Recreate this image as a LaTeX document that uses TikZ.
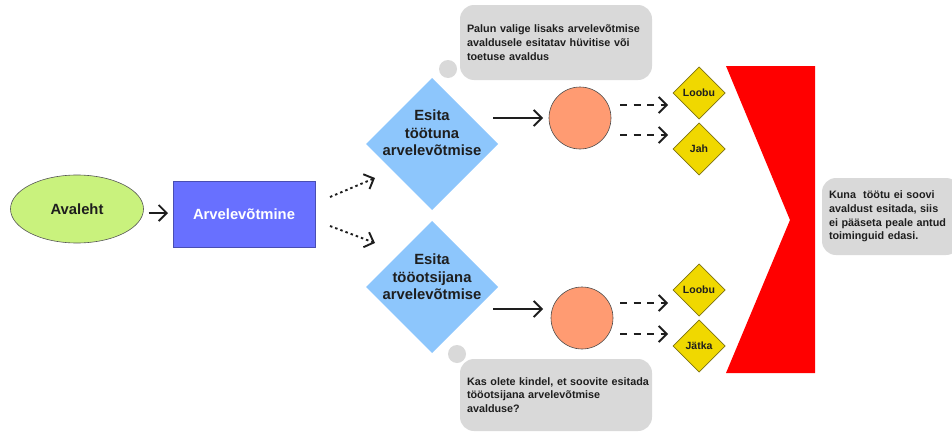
\documentclass[tikz,border=0pt]{standalone}
\usepackage{fontspec}
\setmainfont{Liberation Sans}
\usetikzlibrary{shapes.geometric,arrows.meta,calc}
\definecolor{ink}{HTML}{1E1E1E}
\definecolor{greenfill}{HTML}{C9F27D}
\definecolor{bluebox}{HTML}{6870FF}
\definecolor{bluediam}{HTML}{8DC6FC}
\definecolor{salmon}{HTML}{FF9B72}
\definecolor{yellowd}{HTML}{F0D800}
\definecolor{bubblegray}{HTML}{D9D9D9}
\begin{document}
\begin{tikzpicture}[x=1pt,y=-1pt,
  every node/.style={inner sep=0pt, outer sep=0pt, text=ink},
  bigtxt/.style={font=\fontsize{14.8}{17.5}\selectfont\bfseries, align=center},
  bubble/.style={fill=bubblegray, rounded corners=14pt, inner xsep=7pt, inner ysep=0pt,
    align=left, font=\fontsize{10.8}{13.8}\selectfont\bfseries, anchor=north west},
  dot/.style={circle, fill=bubblegray, minimum size=18pt},
  bluediamond/.style={diamond, fill=bluediam, minimum width=132pt, minimum height=132pt},
  ydiamond/.style={diamond, fill=yellowd, draw=ink!55!yellowd, line width=0.7pt,
    minimum width=52pt, minimum height=52pt, font=\fontsize{10.5}{12}\selectfont\bfseries},
  orb/.style={circle, fill=salmon, draw=ink!80, line width=0.6pt, minimum size=62pt},
  arr/.style={line width=1.9pt, draw=ink, -{Straight Barb[length=8pt,width=16pt,line width=1.9pt]}},
  dotarr/.style={arr, dash pattern=on 2.5pt off 3pt},
  dasharr/.style={arr, dash pattern=on 7pt off 6.5pt}
]
\useasboundingbox (0,0) rectangle (952,431);

% start
\node[ellipse, fill=greenfill, draw=ink!75, line width=0.6pt,
      minimum width=133pt, minimum height=68pt,
      font=\fontsize{14.8}{17}\selectfont\bfseries] (home) at (77,209) {Avaleht};
\node[rectangle, fill=bluebox, draw=bluebox!70!black, line width=0.4pt,
      minimum width=142pt, minimum height=66pt, text=white,
      font=\fontsize{14.8}{17}\selectfont\bfseries] (arv) at (244,214) {Arvelevõtmine};
\draw[arr, shorten <=5pt, shorten >=5pt] (home.east |- 0,213) -- (arv.west |- 0,213);

% decisions
\node[bluediamond] (d1) at (432,144) {};
\node[bigtxt] (d1t) at (432,133) {Esita\\töötuna\\arvelevõtmise};
\node[bluediamond] (d2) at (432,287) {};
\node[bigtxt] (d2t) at (432,277) {Esita\\tööotsijana\\arvelevõtmise};

\coordinate (a1s) at (330,197);
\coordinate (a1e) at (375,178);
\coordinate (a2s) at (330,226);
\coordinate (a2e) at (375,243);
\draw[dotarr] (a1s) -- (a1e);
\draw[dotarr] (a2s) -- (a2e);

% circles
\node[orb] (c1) at (580,118) {};
\node[orb] (c2) at (582,318) {};
\coordinate (b1s) at (493,118);
\coordinate (b1e) at (543,118);
\coordinate (b2s) at (493,309);
\coordinate (b2e) at (543,309);
\draw[arr] (b1s) -- (b1e);
\draw[arr] (b2s) -- (b2e);

% yellow choices
\node[ydiamond] (y1) at (699,93) {Loobu};
\node[ydiamond] (y2) at (699,149) {Jah};
\node[ydiamond] (y3) at (699,290) {Loobu};
\node[ydiamond] (y4) at (699,346) {Jätka};

\coordinate (e1s) at (620,105);
\coordinate (e1e) at (668,105);
\coordinate (e2s) at (620,135);
\coordinate (e2e) at (668,135);
\coordinate (e3s) at (620,303);
\coordinate (e3e) at (668,303);
\coordinate (e4s) at (620,334);
\coordinate (e4e) at (668,334);
\draw[dasharr] (e1s) -- (e1e);
\draw[dasharr] (e2s) -- (e2e);
\draw[dasharr] (e3s) -- (e3e);
\draw[dasharr] (e4s) -- (e4e);

% red block
\coordinate (r1) at (726,66);
\coordinate (r2) at (815,66);
\coordinate (r3) at (815,373);
\coordinate (r4) at (726,373);
\coordinate (r5) at (790,220);
\fill[red] (r1) -- (r2) -- (r3) -- (r4) -- (r5) -- cycle;

% bubbles
\node[dot] (p1) at (448,69) {};
\node[bubble, text width=178pt, minimum height=75pt] (q1) at (460,5)
  {\mbox{Palun valige lisaks arvelevõtmise}\\\mbox{avaldusele esitatav hüvitise või}\\\mbox{toetuse avaldus}};
\node[dot] (p2) at (457,354) {};
\node[bubble, text width=178pt, minimum height=72pt] (q2) at (460,359)
  {\mbox{Kas olete kindel, et soovite esitada}\\\mbox{tööotsijana arvelevõtmise}\\\mbox{avalduse?}};
\node[bubble, text width=124pt, minimum height=77pt] (q3) at (822,178)
  {\mbox{Kuna\ \ töötu ei soovi}\\\mbox{avaldust esitada, siis}\\\mbox{ei pääseta peale antud}\\\mbox{toiminguid edasi.}};
\end{tikzpicture}
\end{document}
